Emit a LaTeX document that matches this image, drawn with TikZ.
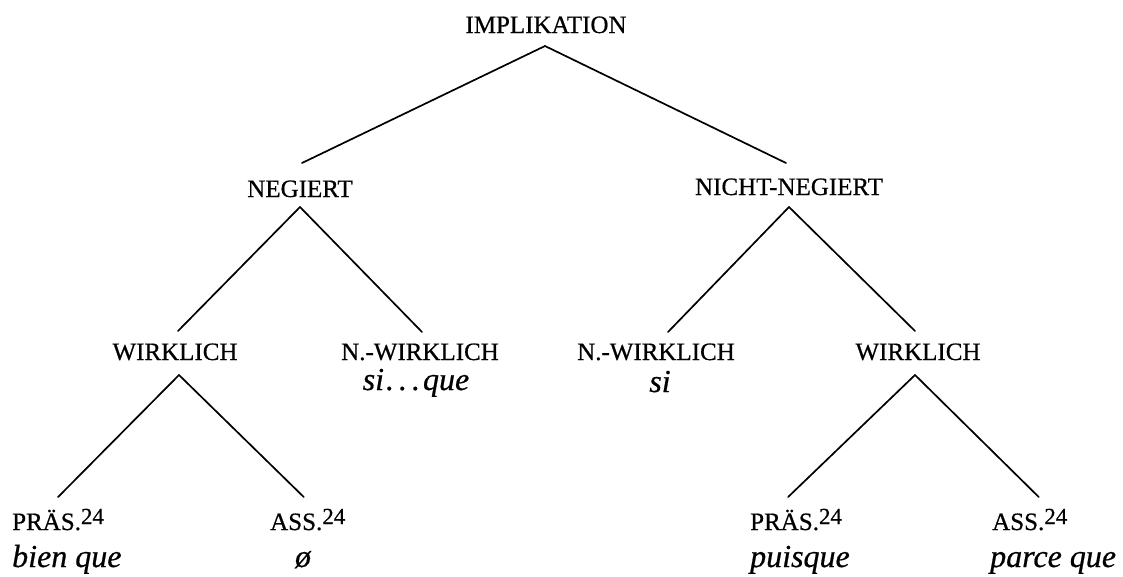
\documentclass[tikz,border=0pt]{standalone}
\usepackage{fontspec}
\setmainfont{Liberation Serif}[FakeBold=0.6]
\newcommand{\supnum}[1]{\raisebox{6pt}{\fontsize{23}{27}\selectfont #1}}
\begin{document}
\begin{tikzpicture}[x=1pt,y=-1pt,
  lab/.style={inner sep=0pt,anchor=base,font=\fontsize{25}{30}\selectfont},
  labw/.style={inner sep=0pt,anchor=base west,font=\fontsize{25}{30}\selectfont},
  ex/.style={inner sep=0pt,anchor=base,font=\fontsize{32}{38}\selectfont\itshape},
  exw/.style={inner sep=0pt,anchor=base west,font=\fontsize{32}{38}\selectfont\itshape},
  edge/.style={line width=1.7pt,line cap=round}]
\useasboundingbox (0,0) rectangle (1123,576);
% level 0
\node[lab] (impl) at (546,33) {IMPLIKATION};
% level 1
\node[lab] (neg) at (300,197) {NEGIERT};
\node[lab] (nneg) at (789,195) {NICHT-NEGIERT};
% level 2
\node[lab] (lw) at (175,360) {WIRKLICH};
\node[lab] (lnw) at (420,360) {N.-WIRKLICH};
\node[ex] (lnwex) at (416,390) {si\kern2pt.\kern5pt.\kern5pt.\kern3pt que};
\node[lab] (rnw) at (656,360) {N.-WIRKLICH};
\node[ex] (rnwex) at (660,392) {si};
\node[lab] (rw) at (918,360) {WIRKLICH};
% level 3
\node[labw] (lpras) at (12,530) {PRÄS.\supnum{24}};
\node[exw] (lprasex) at (12,567) {bien que};
\node[labw] (lass) at (270,530) {ASS.\supnum{24}};
\node[ex] (lassex) at (303,567) {ø};
\node[labw] (rpras) at (750,530) {PRÄS.\supnum{24}};
\node[exw] (rprasex) at (750,567) {puisque};
\node[labw] (rass) at (992,530) {ASS.\supnum{24}};
\node[exw] (rassex) at (990,567) {parce que};
% connectors
\draw[edge] ([xshift=-1pt,yshift=-13pt]impl.base) -- ([xshift=2pt,yshift=34pt]neg.base);
\draw[edge] ([xshift=-1pt,yshift=-13pt]impl.base) -- ([xshift=-3pt,yshift=32pt]nneg.base);
\draw[edge] ([yshift=-10pt]neg.base) -- ([xshift=3pt,yshift=29pt]lw.base);
\draw[edge] ([yshift=-10pt]neg.base) -- ([xshift=2pt,yshift=28pt]lnw.base);
\draw[edge] ([yshift=-12pt]nneg.base) -- ([xshift=12pt,yshift=28pt]rnw.base);
\draw[edge] ([yshift=-12pt]nneg.base) -- ([xshift=-3pt,yshift=29pt]rw.base);
\draw[edge] ([xshift=4pt,yshift=-15pt]lw.base) -- ([yshift=33pt]lpras.base);
\draw[edge] ([xshift=4pt,yshift=-15pt]lw.base) -- ([xshift=-4pt,yshift=33pt]lass.base);
\draw[edge] ([xshift=-3pt,yshift=-15pt]rw.base) -- ([xshift=-8pt,yshift=33pt]rpras.base);
\draw[edge] ([xshift=-3pt,yshift=-15pt]rw.base) -- ([xshift=9pt,yshift=33pt]rass.base);
\end{tikzpicture}
\end{document}
